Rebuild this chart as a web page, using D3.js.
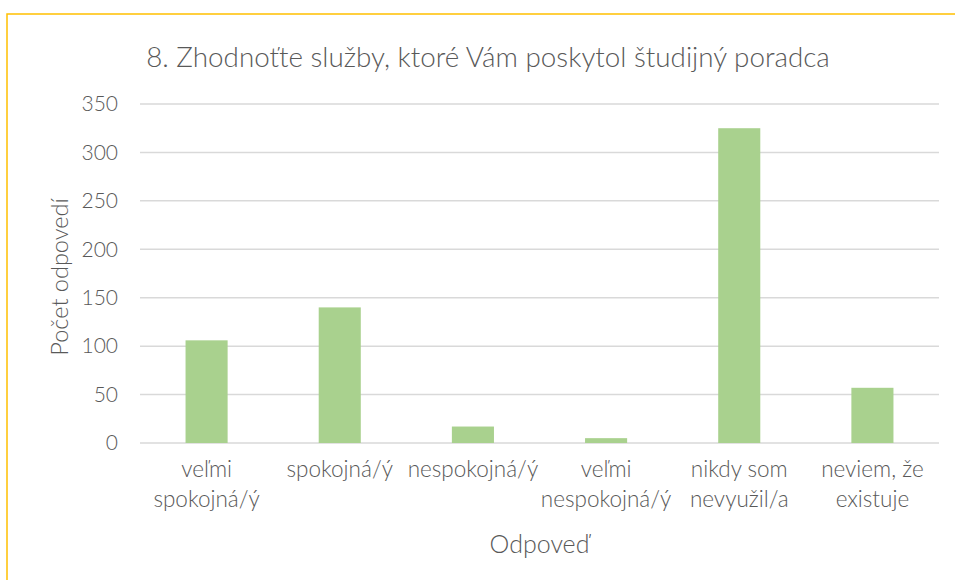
<!DOCTYPE html>
<html><head><meta charset="utf-8">
<script src="https://cdn.jsdelivr.net/npm/d3@7"></script>
<style>body{margin:0;background:#fff}svg{display:block}</style>
</head><body><svg id="c" width="955" height="580"></svg>
<script>
const categories = [["veľmi","spokojná/ý"],["spokojná/ý"],["nespokojná/ý"],["veľmi","nespokojná/ý"],["nikdy som","nevyužil/a"],["neviem, že","existuje"]];
const values = [106, 140, 17, 5, 325, 57];
const yTicks = [0,50,100,150,200,250,300,350];
const title = "8. Zhodnoťte služby, ktoré Vám poskytol študijný poradca";
const xTitle = "Odpoveď";
const yTitle = "Počet odpovedí";

const svg = d3.select("#c");
const font = "Lato, 'Liberation Sans', sans-serif";
const col = "#595959";
// border
svg.append("rect").attr("x",7).attr("y",14).attr("width",960).attr("height",600)
  .attr("fill","#fff").attr("stroke","#FFC000").attr("stroke-width",1.5);

const L=140, R=939, T=104, B=443;
const x = d3.scaleBand().domain(d3.range(categories.length)).range([L,R]).paddingInner(0.684).paddingOuter(0.342);
const y = d3.scaleLinear().domain([0,350]).range([B,T]);

const g = svg.append("g");
g.selectAll("line.grid").data(yTicks).join("line")
  .attr("x1",L).attr("x2",R).attr("y1",d=>y(d)).attr("y2",d=>y(d))
  .attr("stroke","#D9D9D9").attr("stroke-width",1.5);
g.selectAll("text.yt").data(yTicks).join("text")
  .attr("x",118).attr("y",d=>y(d)).attr("dy","0.35em").attr("text-anchor","end")
  .attr("font-family",font).attr("font-weight",300).attr("font-size",21).attr("fill",col).text(d=>d);

g.selectAll("rect.bar").data(values).join("rect")
  .attr("x",(d,i)=>x(i)).attr("width",x.bandwidth())
  .attr("y",d=>y(d)).attr("height",d=>B-y(d)).attr("fill","#A9D18E");

categories.forEach((lines,i)=>{
  const cx = x(i)+x.bandwidth()/2;
  const t = g.append("text").attr("text-anchor","middle").attr("font-family",font)
    .attr("font-weight",300).attr("font-size",22.5).attr("fill",col);
  lines.forEach((ln,j)=>{
    t.append("tspan").attr("x",cx).attr("y",477+j*30).text(ln);
  });
});

svg.append("text").attr("x",(L+R)/2).attr("y",553).attr("text-anchor","middle")
  .attr("font-family",font).attr("font-weight",300).attr("font-size",25).attr("fill",col).text(xTitle);
svg.append("text").attr("transform","translate(68,277) rotate(-90)").attr("text-anchor","middle")
  .attr("font-family",font).attr("font-weight",300).attr("font-size",23.5).attr("fill",col).text(yTitle);
svg.append("text").attr("x",488).attr("y",67).attr("text-anchor","middle")
  .attr("font-family",font).attr("font-weight",300).attr("font-size",27.8).attr("fill",col).text(title);
</script></body></html>
